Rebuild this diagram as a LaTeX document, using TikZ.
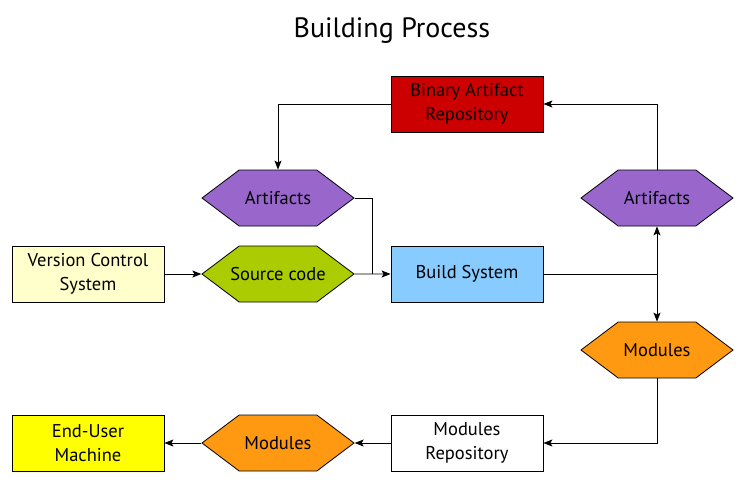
\documentclass[tikz,border=0pt]{standalone}
\usepackage{fontspec}
\setmainfont{PT Sans}
\usetikzlibrary{shapes.symbols,arrows.meta}
\definecolor{vcsyellow}{HTML}{FFFFCC}
\definecolor{buildblue}{HTML}{88CCFF}
\definecolor{binred}{HTML}{CC0000}
\definecolor{artpurple}{HTML}{9966CC}
\definecolor{srcgreen}{HTML}{AACC00}
\definecolor{modorange}{HTML}{FF9912}
\definecolor{useryellow}{HTML}{FFFF00}
\tikzset{
  box/.style={draw,rectangle,line width=0.8pt,minimum width=152,minimum height=56,inner sep=0pt,align=center,font=\fontsize{18.5}{23.5}\selectfont},
  hexa/.style={draw,signal,signal to=east and west,signal pointer angle=74,line width=0.8pt,minimum width=152,minimum height=56,inner ysep=0pt,inner xsep=-20pt,font=\fontsize{18.5}{23.5}\selectfont},
  flow/.style={line width=0.9pt,-{Stealth[length=9,width=7,inset=2]}},
  wire/.style={line width=0.9pt}
}
\begin{document}
\begin{tikzpicture}[x=1pt,y=-1pt]
\useasboundingbox (0,0) rectangle (756,491);
\node[font=\fontsize{28}{32}\selectfont] (title) at (392,31) {Building Process};
% boxes
\node[box,fill=vcsyellow] (vcs) at (88,274) {Version Control\\System};
\node[box,fill=buildblue] (build) at (467,274) {Build System};
\node[box,fill=binred] (bin) at (467,104) {Binary Artifact\\Repository};
\node[box,fill=white] (modrepo) at (467,443) {Modules\\Repository};
\node[box,fill=useryellow] (user) at (88,443) {End-User\\Machine};
% hexagons
\node[hexa,fill=artpurple] (artL) at (278,198) {Artifacts};
\node[hexa,fill=srcgreen] (src) at (278,274) {Source code};
\node[hexa,fill=artpurple] (artR) at (657,198) {Artifacts};
\node[hexa,fill=modorange] (modR) at (657,350) {Modules};
\node[hexa,fill=modorange] (modB) at (278,443) {Modules};
\coordinate (join) at (372,274);
\coordinate (fork) at (657,274);
% connectors
\draw[flow] (vcs) -- (src);
\draw[flow] (src) -- (build);
\draw[wire] (artL.east) -| (join);
\draw[wire] (build) -- (fork);
\draw[flow] (fork) -- (artR.south);
\draw[flow] (fork) -- (modR.north);
\draw[flow] (artR.north) |- (bin.east);
\draw[flow] (bin.west) -| (artL.north);
\draw[flow] (modR.south) |- (modrepo.east);
\draw[flow] (modrepo) -- (modB);
\draw[flow] (modB) -- (user);
\end{tikzpicture}
\end{document}
